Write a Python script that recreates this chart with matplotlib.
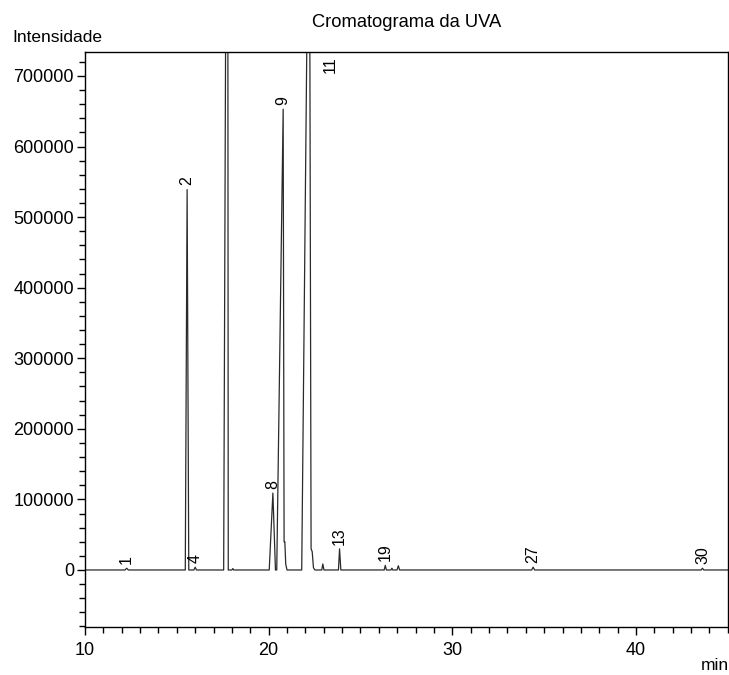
import matplotlib.pyplot as plt
from matplotlib.ticker import MultipleLocator

plt.rcParams['font.family'] = ['Liberation Sans', 'DejaVu Sans']

# Chromatogram trace (time in min, intensity)
trace_t = [10.0, 12.18, 12.27, 12.36, 15.46, 15.56, 15.65, 15.93, 16.0, 16.07,
           17.55, 17.76, 17.80, 18.0, 18.05, 18.1, 20.03, 20.23, 20.37, 20.44,
           20.79, 20.84, 20.88, 20.93, 21.0, 21.80, 22.21, 22.31, 22.37, 22.44,
           22.52, 22.89, 22.95, 23.01, 23.80, 23.86, 23.93, 26.29, 26.35, 26.41,
           26.66, 26.71, 26.76, 26.99, 27.06, 27.13, 34.32, 34.40, 34.48, 43.55,
           43.62, 43.69, 45.0]
trace_y = [0, 0, 2500, 0, 0, 539000, 0, 0, 4000, 0,
           0, 1500000, 0, 0, 2000, 0, 0, 109000, 0, 0,
           653000, 40000, 40000, 8000, 0, 0, 1100000, 30000, 26000, 3000,
           0, 0, 8500, 0, 0, 30000, 0, 0, 6500, 0,
           0, 2500, 0, 0, 6000, 0, 0, 4000, 0, 0,
           2500, 0, 0]

# Peak labels
peak_names = ['1', '2', '4', '8', '9', '13', '19', '27', '30']
peak_t = [12.27, 15.56, 16.0, 20.23, 20.79, 23.86, 26.35, 34.40, 43.62]
peak_y = [2500, 539000, 4000, 109000, 653000, 30000, 6500, 4000, 2500]

fig = plt.figure(figsize=(7.29, 6.75), dpi=100)
ax = fig.add_axes([85 / 729, 48 / 675, 643 / 729, 575 / 675])

ax.plot(trace_t, trace_y, color='#2a2a2a', lw=0.9)

for name, t, y in zip(peak_names, peak_t, peak_y):
    ax.text(t, y + 6000, name, rotation=90, ha='center', va='bottom', fontsize=11.5)
# label for the off-scale peak 11, placed at the top
ax.text(23.35, 728000, '11', rotation=90, ha='center', va='top', fontsize=11.5)

ax.set_xlim(10, 45.01)
ax.set_ylim(-80800, 734000)

ax.xaxis.set_major_locator(MultipleLocator(10))
ax.xaxis.set_minor_locator(MultipleLocator(1))
ax.yaxis.set_major_locator(MultipleLocator(100000))
ax.yaxis.set_minor_locator(MultipleLocator(20000))
ax.tick_params(which='major', direction='out', length=6, width=1, labelsize=13, pad=2)
ax.tick_params(axis='x', which='major', pad=5)
ax.tick_params(which='minor', direction='out', length=4, width=1)

for s in ax.spines.values():
    s.set_linewidth(1)

ax.set_title('Cromatograma da UVA', fontsize=13.2, pad=18)
fig.text(12 / 729, 1 - 37 / 675, 'Intensidade', fontsize=12.5, ha='left', va='center')
fig.text(1.0, 1 - 665 / 675, 'min', fontsize=12.5, ha='right', va='center')

fig.savefig('out.png', dpi=100)
